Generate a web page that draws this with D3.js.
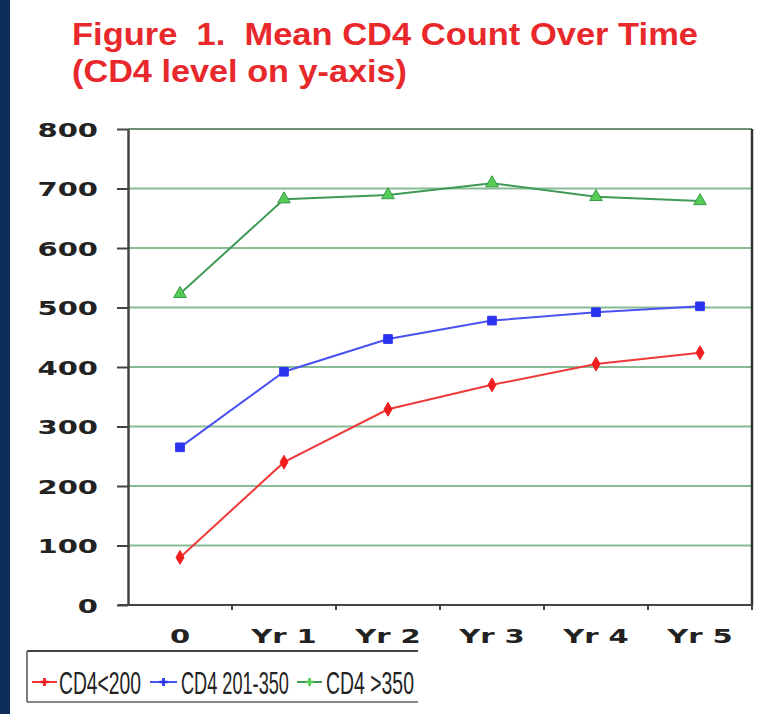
<!DOCTYPE html>
<html>
<head>
<meta charset="utf-8">
<script src="https://cdn.jsdelivr.net/npm/d3@7"></script>
<style>
    body { margin: 0; background: #fff; }
    svg { display: block; }
</style>
</head>
<body>
<svg id="chart" width="759" height="714"></svg>
<script>
// data
const categories = ["0", "Yr 1", "Yr 2", "Yr 3", "Yr 4", "Yr 5"];
const cd4Under200 = [80, 240, 329, 370, 405, 424];
const cd4From201 = [265, 392, 447, 478, 492, 502];
const cd4Over350 = [523, 682, 689, 709, 686, 679];
const yTicks = d3.range(0, 801, 100);
const seriesNames = ["CD4<200", "CD4 201-350", "CD4 >350"];
const titleLines = ["Figure  1.  Mean CD4 Count Over Time", "(CD4 level on y-axis)"];

const series = [
    {name: seriesNames[0], values: cd4Under200, line: "#f03a3a", fill: "#f01e1e", stroke: "#f01e1e", shape: d3.symbolDiamond, size: 55},
    {name: seriesNames[1], values: cd4From201, line: "#4b52f2", fill: "#2a33ee", stroke: "#2a33ee", shape: d3.symbolSquare, size: 75},
    {name: seriesNames[2], values: cd4Over350, line: "#3f9a55", fill: "#55cc55", stroke: "#3a9a4a", shape: d3.symbolTriangle, size: 70}
];

const svg = d3.select("#chart");

// navy strip on the left
svg.append("rect")
    .attr("x", 0).attr("y", 0)
    .attr("width", 10).attr("height", 714)
    .attr("fill", "#0c2d5a");

// title
svg.selectAll(".title")
    .data(titleLines)
    .join("text")
    .attr("class", "title")
    .attr("x", 72)
    .attr("y", (d, i) => 45 + i * 37)
    .attr("font-family", "Liberation Sans, Arial, sans-serif")
    .attr("font-weight", "bold")
    .attr("font-size", 31)
    .attr("fill", "#e8282b")
    .attr("textLength", (d, i) => i === 0 ? 626 : 335)
    .attr("lengthAdjust", "spacingAndGlyphs")
    .attr("xml:space", "preserve")
    .style("white-space", "pre")
    .text(d => d);

const x = d3.scaleBand().domain(categories).range([128, 752]);
const y = d3.scaleLinear().domain([0, 800]).range([605, 129]);

// gridlines
svg.append("g")
    .selectAll("line")
    .data(yTicks.filter(t => t > 0))
    .join("line")
    .attr("x1", 128).attr("x2", 752)
    .attr("y1", d => y(d)).attr("y2", d => y(d))
    .attr("stroke", d => d === 800 ? "#6f8f76" : "#86bb94")
    .attr("stroke-width", 2);

// y axis
const yAxis = svg.append("g")
    .attr("transform", "translate(128,0)")
    .call(d3.axisLeft(y).tickValues(yTicks).tickSize(11).tickSizeOuter(0).tickFormat(""));
yAxis.select(".domain").attr("stroke", "#444").attr("stroke-width", 2.5);
yAxis.selectAll(".tick line").attr("stroke", "#444").attr("stroke-width", 2);

svg.append("g")
    .selectAll("text")
    .data(yTicks)
    .join("text")
    .attr("transform", d => `translate(98,${y(d) + 7.5}) scale(1.45,1)`)
    .attr("text-anchor", "end")
    .attr("font-family", "DejaVu Sans, sans-serif")
    .attr("font-weight", "bold")
    .attr("font-size", 20)
    .attr("fill", "#222")
    .text(d => d);

// right border
svg.append("line")
    .attr("x1", 752).attr("x2", 752)
    .attr("y1", y(800)).attr("y2", y(0))
    .attr("stroke", "#333").attr("stroke-width", 2.5);

// x axis
svg.append("line")
    .attr("x1", 118).attr("x2", 753)
    .attr("y1", y(0)).attr("y2", y(0))
    .attr("stroke", "#444").attr("stroke-width", 2);
const bounds = categories.map(c => x(c)).concat([x.range()[1]]);
svg.append("g")
    .selectAll("line")
    .data(bounds.slice(1))
    .join("line")
    .attr("x1", d => d).attr("x2", d => d)
    .attr("y1", y(0)).attr("y2", y(0) + 5)
    .attr("stroke", "#444").attr("stroke-width", 2);

svg.append("g")
    .selectAll("text")
    .data(categories)
    .join("text")
    .attr("transform", d => `translate(${x(d) + x.bandwidth() / 2},643) scale(1.45,1)`)
    .attr("text-anchor", "middle")
    .attr("font-family", "DejaVu Sans, sans-serif")
    .attr("font-weight", "bold")
    .attr("font-size", 20)
    .attr("fill", "#222")
    .attr("xml:space", "preserve")
    .text(d => d);

// lines + markers
const line = d3.line()
    .x((d, i) => x(categories[i]) + x.bandwidth() / 2)
    .y(d => y(d));

series.forEach(s => {
    svg.append("path")
        .datum(s.values)
        .attr("fill", "none")
        .attr("stroke", s.line)
        .attr("stroke-width", 2)
        .attr("d", line);
    svg.append("g")
        .selectAll("path")
        .data(s.values)
        .join("path")
        .attr("transform", (d, i) => `translate(${x(categories[i]) + x.bandwidth() / 2},${y(d)})`)
        .attr("d", d3.symbol().type(s.shape).size(s.size))
        .attr("fill", s.fill)
        .attr("stroke", s.stroke)
        .attr("stroke-width", 1);
});

// legend
const lg = svg.append("g");
lg.append("line").attr("x1", 27).attr("x2", 418).attr("y1", 651).attr("y2", 651)
    .attr("stroke", "#444").attr("stroke-width", 2);
lg.append("line").attr("x1", 27).attr("x2", 418).attr("y1", 702).attr("y2", 702)
    .attr("stroke", "#888").attr("stroke-width", 2);
lg.append("line").attr("x1", 27).attr("x2", 27).attr("y1", 651).attr("y2", 702)
    .attr("stroke", "#555").attr("stroke-width", 1.5);

const legendPos = [
    {lx1: 32, lx2: 57, tx: 59, tw: 82},
    {lx1: 150, lx2: 177, tx: 181, tw: 108},
    {lx1: 297, lx2: 322, tx: 326, tw: 88}
];
series.forEach((s, i) => {
    const p = legendPos[i];
    lg.append("line")
        .attr("x1", p.lx1).attr("x2", p.lx2)
        .attr("y1", 682).attr("y2", 682)
        .attr("stroke", s.line).attr("stroke-width", 2);
    lg.append("path")
        .attr("transform", `translate(${(p.lx1 + p.lx2) / 2},682)`)
        .attr("d", d3.symbol().type(d3.symbolCross).size(36))
        .attr("fill", s.fill);
    const t = lg.append("text")
        .attr("font-family", "Liberation Sans, Arial, sans-serif")
        .attr("font-size", 31)
        .attr("fill", "#222")
        .text(s.name);
    // squeeze the text into a narrow face, like the original legend
    const w = t.node().getComputedTextLength();
    t.attr("transform", `translate(${p.tx},694) scale(${p.tw / w},1)`);
});
</script>
</body>
</html>
